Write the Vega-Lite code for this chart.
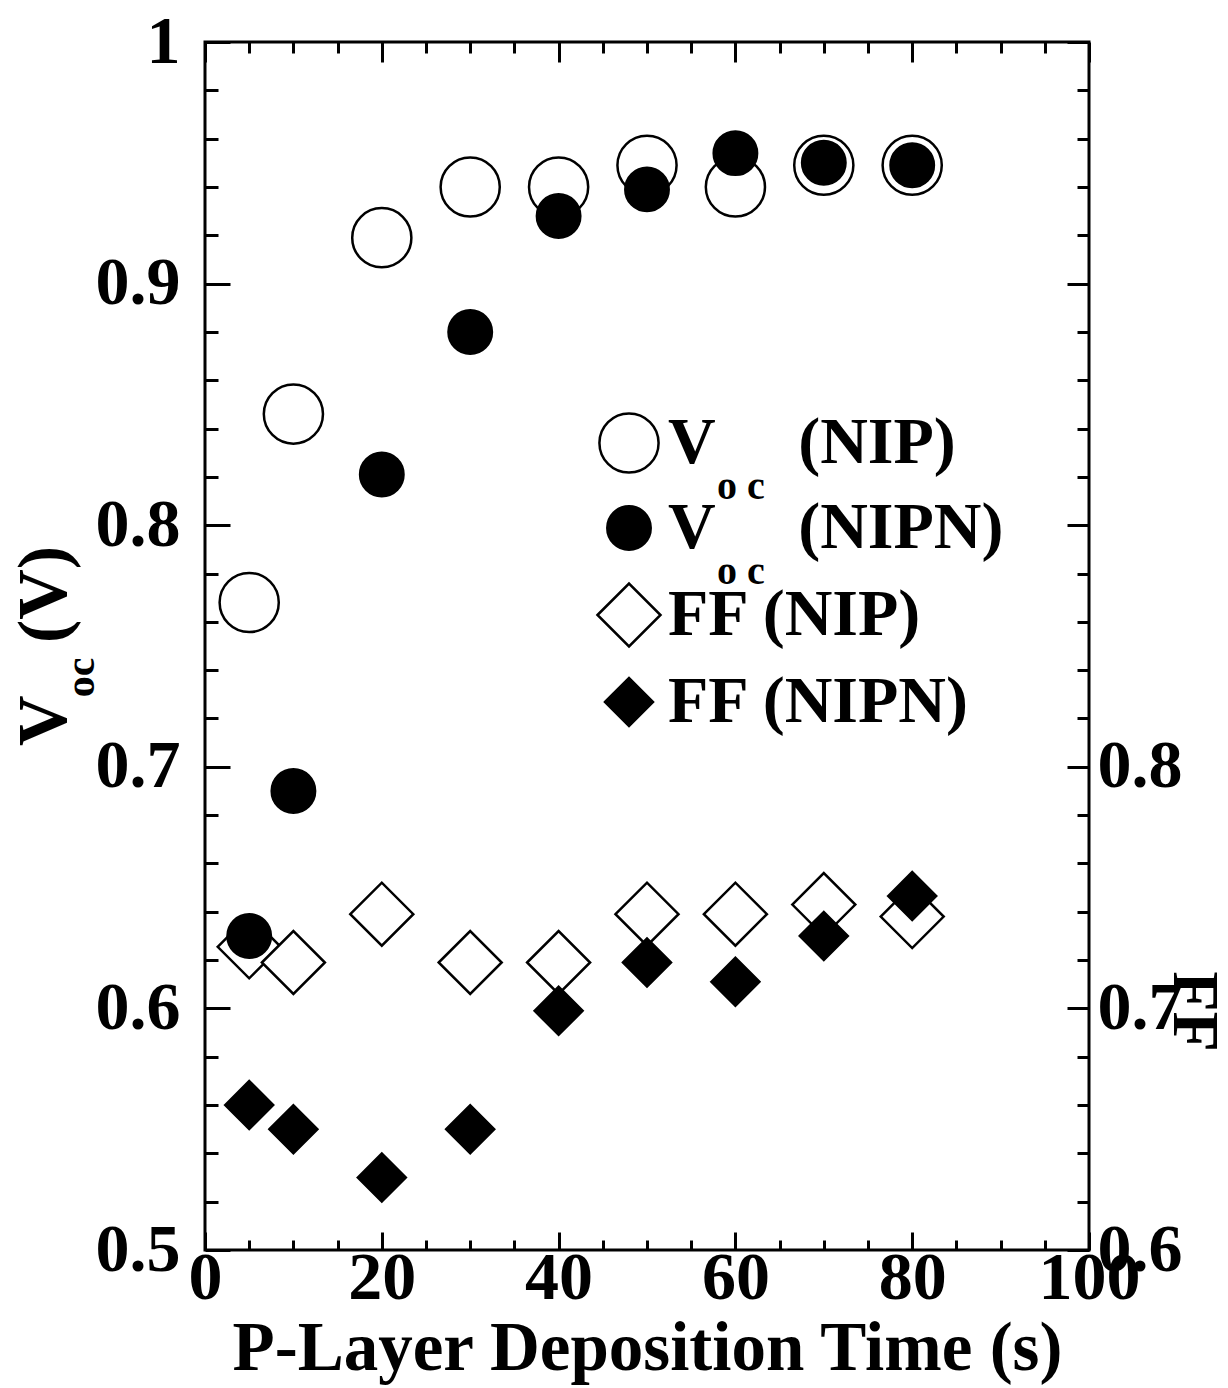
{
  "$schema": "https://vega.github.io/schema/vega-lite/v6.json",
  "width": 884,
  "height": 1208,
  "autosize": {"type": "none"},
  "padding": {"left": 205, "top": 42, "right": 139, "bottom": 138},
  "background": "white",
  "config": {
    "view": {"stroke": "black", "strokeWidth": 3},
    "font": "Liberation Serif",
    "axis": {
      "domain": false,
      "grid": false,
      "tickColor": "black",
      "tickWidth": 3,
      "labelFont": "Liberation Serif",
      "labelFontSize": 68,
      "labelFontWeight": "bold",
      "labelColor": "black",
      "labelFlush": false,
      "labelOverlap": false,
      "titleFont": "Liberation Serif",
      "titleFontSize": 69,
      "titleFontWeight": "bold",
      "titleColor": "black"
    }
  },
  "title": {
    "text": "V\u00a0\u00a0\u00a0(V)",
    "subtitle": "oc\u00a0\u00a0\u00a0\u00a0\u00a0\u00a0\u200b",
    "orient": "left",
    "anchor": "middle",
    "font": "Liberation Serif",
    "fontSize": 70,
    "fontWeight": "bold",
    "color": "black",
    "subtitleFont": "Liberation Serif",
    "subtitleFontSize": 42,
    "subtitleFontWeight": "bold",
    "subtitleColor": "black",
    "subtitlePadding": -20,
    "offset": -8
  },
  "datasets": {
    "voc": [
      {"t": 5, "s": "Voc (NIP)", "v": 0.768},
      {"t": 10, "s": "Voc (NIP)", "v": 0.846},
      {"t": 20, "s": "Voc (NIP)", "v": 0.919},
      {"t": 30, "s": "Voc (NIP)", "v": 0.940},
      {"t": 40, "s": "Voc (NIP)", "v": 0.940},
      {"t": 50, "s": "Voc (NIP)", "v": 0.949},
      {"t": 60, "s": "Voc (NIP)", "v": 0.940},
      {"t": 70, "s": "Voc (NIP)", "v": 0.949},
      {"t": 80, "s": "Voc (NIP)", "v": 0.949},
      {"t": 5, "s": "Voc (NIPN)", "v": 0.630},
      {"t": 10, "s": "Voc (NIPN)", "v": 0.690},
      {"t": 20, "s": "Voc (NIPN)", "v": 0.821},
      {"t": 30, "s": "Voc (NIPN)", "v": 0.880},
      {"t": 40, "s": "Voc (NIPN)", "v": 0.928},
      {"t": 50, "s": "Voc (NIPN)", "v": 0.939},
      {"t": 60, "s": "Voc (NIPN)", "v": 0.954},
      {"t": 70, "s": "Voc (NIPN)", "v": 0.950},
      {"t": 80, "s": "Voc (NIPN)", "v": 0.949}
    ],
    "ff": [
      {"t": 5, "s": "FF (NIP)", "f": 0.7255},
      {"t": 10, "s": "FF (NIP)", "f": 0.719},
      {"t": 20, "s": "FF (NIP)", "f": 0.739},
      {"t": 30, "s": "FF (NIP)", "f": 0.719},
      {"t": 40, "s": "FF (NIP)", "f": 0.719},
      {"t": 50, "s": "FF (NIP)", "f": 0.739},
      {"t": 60, "s": "FF (NIP)", "f": 0.739},
      {"t": 70, "s": "FF (NIP)", "f": 0.743},
      {"t": 80, "s": "FF (NIP)", "f": 0.738},
      {"t": 5, "s": "FF (NIPN)", "f": 0.660},
      {"t": 10, "s": "FF (NIPN)", "f": 0.650},
      {"t": 20, "s": "FF (NIPN)", "f": 0.630},
      {"t": 30, "s": "FF (NIPN)", "f": 0.650},
      {"t": 40, "s": "FF (NIPN)", "f": 0.699},
      {"t": 50, "s": "FF (NIPN)", "f": 0.719},
      {"t": 60, "s": "FF (NIPN)", "f": 0.711},
      {"t": 70, "s": "FF (NIPN)", "f": 0.730},
      {"t": 80, "s": "FF (NIPN)", "f": 0.7465}
    ]
  },
  "layer": [
    {
      "data": {"name": "ff"},
      "mark": {"type": "point", "filled": true, "stroke": "black", "strokeWidth": 2.5, "opacity": 1},
      "encoding": {
        "x": {
          "field": "t", "type": "quantitative",
          "scale": {"domain": [0, 100], "nice": false, "zero": false},
          "axis": {
            "orient": "top",
            "values": [0,5,10,15,20,25,30,35,40,45,50,55,60,65,70,75,80,85,90,95,100],
            "labels": false,
            "title": null,
            "tickSize": {"condition": {"test": "datum.value % 20 === 0", "value": -20}, "value": -11}
          }
        },
        "y": {
          "field": "f", "type": "quantitative",
          "scale": {"domain": [0.6, 1.1], "nice": false, "zero": false},
          "axis": {
            "orient": "right",
            "values": [0.6,0.62,0.64,0.66,0.68,0.7,0.72,0.74,0.76,0.78,0.8,0.82,0.84,0.86,0.88,0.9,0.92,0.94,0.96,0.98,1.0,1.02,1.04,1.06,1.08,1.1],
            "tickSize": {"condition": {"test": "abs(datum.value*10 - round(datum.value*10)) < 0.001", "value": -22}, "value": -12},
            "labelExpr": "(abs(datum.value*10 - round(datum.value*10)) < 0.001 && datum.value < 0.85) ? format(datum.value, '.1f') : ''",
            "labelAlign": "left",
            "labelPadding": 30,
            "title": "FF",
            "titleAngle": 90,
            "titleAlign": "center",
            "titleBaseline": "middle",
            "titleX": 104,
            "titleY": 969,
            "titleFontSize": 66
          }
        },
        "shape": {
          "field": "s", "type": "nominal",
          "scale": {"domain": ["Voc (NIP)", "Voc (NIPN)", "FF (NIP)", "FF (NIPN)"], "range": ["circle", "circle", "diamond", "diamond"]},
          "legend": {
            "orient": "none",
            "legendX": 391,
            "legendY": 368,
            "title": null,
            "padding": 0,
            "labelFont": "Liberation Serif",
            "labelFontSize": 66,
            "labelFontWeight": "bold",
            "labelColor": "black",
            "labelLimit": 1000,
            "labelOffset": 6,
            "rowPadding": 17,
            "symbolStrokeColor": "black",
            "symbolStrokeWidth": 2.5,
            "labelExpr": "datum.value === 'Voc (NIP)' ? 'V\u00a0\u00a0\u00a0\u00a0\u00a0(NIP)' : datum.value === 'Voc (NIPN)' ? 'V\u00a0\u00a0\u00a0\u00a0\u00a0(NIPN)' : datum.label"
          }
        },
        "fill": {
          "field": "s", "type": "nominal",
          "scale": {"domain": ["Voc (NIP)", "Voc (NIPN)", "FF (NIP)", "FF (NIPN)"], "range": ["white", "black", "white", "black"]}
        },
        "size": {
          "field": "s", "type": "nominal",
          "scale": {"type": "ordinal", "domain": ["Voc (NIP)", "Voc (NIPN)", "FF (NIP)", "FF (NIPN)"], "range": [3500, 1886, 3969, 2304]}
        }
      }
    },
    {
      "data": {"name": "voc"},
      "mark": {"type": "point", "filled": true, "stroke": "black", "strokeWidth": 2.5},
      "encoding": {
        "x": {
          "field": "t", "type": "quantitative",
          "scale": {"domain": [0, 100], "nice": false, "zero": false},
          "axis": {
            "orient": "bottom",
            "values": [0,5,10,15,20,25,30,35,40,45,50,55,60,65,70,75,80,85,90,95,100],
            "labelExpr": "datum.value % 20 === 0 ? datum.label : ''",
            "tickSize": {"condition": {"test": "datum.value % 20 === 0", "value": -18}, "value": -10},
            "labelPadding": 12,
            "title": "P-Layer Deposition Time (s)",
            "titlePadding": -6
          }
        },
        "y": {
          "field": "v", "type": "quantitative",
          "scale": {"domain": [0.5, 1.0], "nice": false, "zero": false},
          "axis": {
            "orient": "left",
            "values": [0.5,0.52,0.54,0.56,0.58,0.6,0.62,0.64,0.66,0.68,0.7,0.72,0.74,0.76,0.78,0.8,0.82,0.84,0.86,0.88,0.9,0.92,0.94,0.96,0.98,1.0],
            "tickSize": {"condition": {"test": "abs(datum.value*10 - round(datum.value*10)) < 0.001", "value": -25}, "value": -13},
            "labelExpr": "abs(datum.value*10 - round(datum.value*10)) < 0.001 ? (datum.value > 0.99 ? '1' : format(datum.value, '.1f')) : ''",
            "labelPadding": 50,
            "title": null
          }
        },
        "shape": {
          "field": "s", "type": "nominal",
          "scale": {"domain": ["Voc (NIP)", "Voc (NIPN)", "FF (NIP)", "FF (NIPN)"], "range": ["circle", "circle", "diamond", "diamond"]}
        },
        "fill": {
          "field": "s", "type": "nominal",
          "scale": {"domain": ["Voc (NIP)", "Voc (NIPN)", "FF (NIP)", "FF (NIPN)"], "range": ["white", "black", "white", "black"]}
        },
        "size": {
          "field": "s", "type": "nominal",
          "scale": {"type": "ordinal", "domain": ["Voc (NIP)", "Voc (NIPN)", "FF (NIP)", "FF (NIPN)"], "range": [3500, 1886, 3969, 2304]}
        },
        "opacity": {
          "field": "s", "type": "nominal",
          "scale": {"domain": ["Voc (NIP)", "Voc (NIPN)"], "range": [1, 1]},
          "legend": {
            "orient": "none",
            "legendX": 472,
            "legendY": 425,
            "title": null,
            "padding": 0,
            "symbolSize": 0,
            "symbolOpacity": 0,
            "symbolStrokeWidth": 0,
            "labelOffset": 0,
            "labelFont": "Liberation Serif",
            "labelFontSize": 40,
            "labelFontWeight": "bold",
            "labelColor": "black",
            "rowPadding": 45,
            "labelExpr": "'o c'"
          }
        }
      }
    }
  ],
  "resolve": {
    "scale": {"x": "independent", "y": "independent"},
    "axis": {"x": "independent", "y": "independent"}
  }
}
